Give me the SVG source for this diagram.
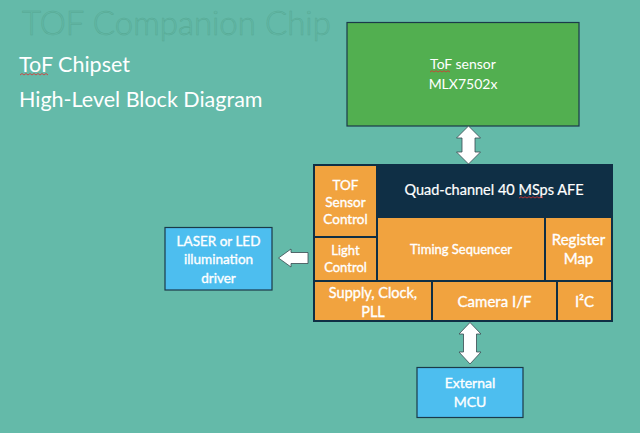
<svg xmlns="http://www.w3.org/2000/svg" width="640" height="433" viewBox="0 0 640 433">
<style>
text{font-family:Lato,"Open Sans","Liberation Sans",sans-serif;fill:#fff;text-anchor:middle}
.cell{fill:#F1A33F}
.lbl{font-size:13.5px;stroke:#fff;stroke-width:0.35}
.arrow{fill:#fff;stroke:#3a4a50;stroke-width:0.8}
.sq{fill:none;stroke:#e03030;stroke-width:0.8}
</style>
<rect x="0" y="0" width="640" height="433" fill="#64BAA9"/>
<g id="title">
<text x="22" y="35" style="text-anchor:start;font-size:33px;font-weight:300;fill:#62B8A6;stroke:#56A893;stroke-width:0.5">TOF Companion Chip</text>
<text x="19" y="72" style="text-anchor:start;font-size:21.5px">ToF Chipset</text>
<path class="sq" d="M20 75 l2 -1.5 l2 1.5 l2 -1.5 l2 1.5 l2 -1.5 l2 1.5 l2 -1.5 l2 1.5 l2 -1.5 l2 1.5 l2 -1.5 l2 1.5 l2 -1.5 l2 1.5"/>
<text x="19" y="107" style="text-anchor:start;font-size:21.5px">High-Level Block Diagram</text>
</g>
<g id="tof-sensor">
<rect x="347" y="22.5" width="232" height="103.5" fill="#52AF50" stroke="#1B3A4A" stroke-width="1.2"/>
<text x="463" y="69" style="font-size:14px">ToF sensor</text>
<path class="sq" d="M430 72 l2 -1.3 l2 1.3 l2 -1.3 l2 1.3 l2 -1.3 l2 1.3 l2 -1.3 l2 1.3 l2 -1.3 l2 1.3"/>
<text x="463" y="89" style="font-size:14px">MLX7502x</text>
</g>
<g id="chip">
<rect x="313" y="164" width="300" height="158" fill="#0F2F45"/>
<g id="tof-sensor-control"><rect class="cell" x="315" y="166" width="61" height="70"/>
<text class="lbl" x="345.5" y="190">TOF</text><text class="lbl" x="345.5" y="207">Sensor</text><text class="lbl" x="345.5" y="224">Control</text></g>
<g id="afe"><text x="494" y="195" style="font-size:14.5px;stroke:#fff;stroke-width:0.2">Quad-channel 40 MSps AFE</text>
<path class="sq" d="M519 198 l2 -1.3 l2 1.3 l2 -1.3 l2 1.3 l2 -1.3 l2 1.3 l2 -1.3 l2 1.3 l2 -1.3 l2 1.3 l2 -1.3 l2 1.3"/></g>
<g id="light-control"><rect class="cell" x="315" y="238" width="61" height="42"/>
<text class="lbl" x="345.5" y="255" style="font-size:13px">Light</text><text class="lbl" x="345.5" y="272" style="font-size:13px">Control</text></g>
<g id="timing-sequencer"><rect class="cell" x="378" y="218" width="166" height="62"/>
<text class="lbl" x="461" y="254" style="font-size:13px">Timing Sequencer</text></g>
<g id="register-map"><rect class="cell" x="546" y="218" width="65" height="62"/>
<text class="lbl" x="578.5" y="245" style="font-size:15px">Register</text><text class="lbl" x="578.5" y="264" style="font-size:15px">Map</text></g>
<g id="supply"><rect class="cell" x="315" y="282" width="116" height="38"/>
<text class="lbl" x="373" y="298" style="font-size:14.5px">Supply, Clock,</text><text class="lbl" x="373" y="317" style="font-size:14.5px">PLL</text></g>
<g id="camera-if"><rect class="cell" x="433" y="282" width="123" height="38"/>
<text class="lbl" x="494.5" y="307" style="font-size:15px">Camera I/F</text></g>
<g id="i2c"><rect class="cell" x="558" y="282" width="53" height="38"/>
<text class="lbl" x="584.5" y="307" style="font-size:15px">I²C</text></g>
</g>
<g id="laser-driver">
<rect x="165" y="227.5" width="107" height="62.5" fill="#4DBEEF" stroke="#1B3A4A" stroke-width="1.2"/>
<text class="lbl" x="218.5" y="246" style="font-size:13.5px">LASER or LED</text>
<text class="lbl" x="218.5" y="264" style="font-size:13.5px">illumination</text>
<text class="lbl" x="218.5" y="283" style="font-size:13.5px">driver</text>
</g>
<g id="external-mcu">
<rect x="417" y="367.5" width="106" height="50" fill="#4DBEEF" stroke="#1B3A4A" stroke-width="1.2"/>
<text class="lbl" x="470" y="388" style="font-size:14px">External</text>
<text class="lbl" x="470" y="407" style="font-size:14px">MCU</text>
</g>
<g id="connectors">
<path class="arrow" d="M468.5 126 L480.5 138 L475 138 L475 152 L480.5 152 L468.5 164 L456.5 152 L462 152 L462 138 L456.5 138 Z"/>
<path class="arrow" d="M470 322.5 L481 334 L476.5 334 L476.5 352 L481 352 L470 364 L459 352 L463.5 352 L463.5 334 L459 334 Z"/>
<path class="arrow" d="M278.5 258 L291 249 L291 252.5 L308 252.5 L308 263.5 L291 263.5 L291 267 Z"/>
</g>
</svg>
